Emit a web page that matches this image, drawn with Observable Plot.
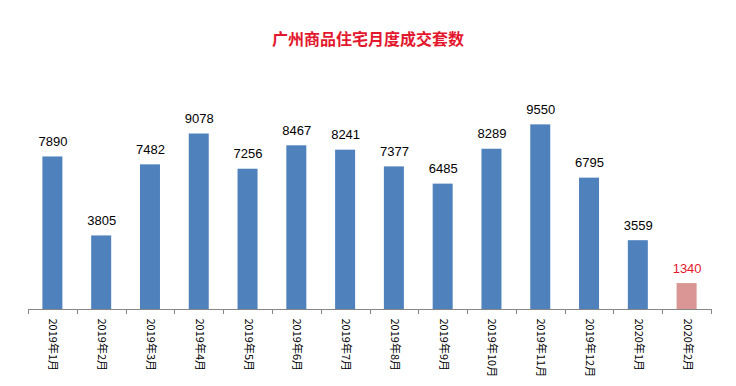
<!DOCTYPE html>
<html><head><meta charset="utf-8">
<script src="https://cdn.jsdelivr.net/npm/d3@7"></script>
<script src="https://cdn.jsdelivr.net/npm/@observablehq/plot@0.6"></script>
<style>
body{margin:0;background:#fff;}
#wrap{position:relative;width:736px;height:386px;font-family:"Liberation Sans","Noto Sans CJK SC",sans-serif;}
#title{position:absolute;left:0;top:27px;width:736px;text-align:center;font-size:16px;font-weight:bold;color:#e3172d;font-family:"Noto Sans CJK SC",sans-serif;line-height:22px;}
</style></head>
<body><div id="wrap"><div id="title">广州商品住宅月度成交套数</div></div>
<script>
const months = ["2019年1月","2019年2月","2019年3月","2019年4月","2019年5月","2019年6月","2019年7月","2019年8月","2019年9月","2019年10月","2019年11月","2019年12月","2020年1月","2020年2月"];
const values = [7890,3805,7482,9078,7256,8467,8241,7377,6485,8289,9550,6795,3559,1340];
const highlight = [false,false,false,false,false,false,false,false,false,false,false,false,false,true];
const data = months.map((m,i)=>({month:m,value:values[i],hl:highlight[i]}));

const boundaryTicks = (index, scales, values, dims) => {
  const x = scales.x;
  const bw = x.bandwidth();
  const step = x.step();
  const g = d3.create("svg:g");
  const base = Math.round(scales.y(0));
  const xs = months.map(m => x(m) + bw/2 - step/2);
  xs.push(x(months[months.length-1]) + bw/2 + step/2);
  g.append("line").attr("x1", xs[0]).attr("x2", xs[xs.length-1]).attr("y1", base+0.5).attr("y2", base+0.5).attr("stroke","#868686");
  for (const xv of xs) {
    g.append("line").attr("x1", Math.round(xv)+0.5).attr("x2", Math.round(xv)+0.5).attr("y1", base).attr("y2", base+5).attr("stroke","#868686");
  }
  return g.node();
};

const plot = Plot.plot({
  width: 736,
  height: 386,
  marginLeft: 28,
  marginRight: 25,
  marginTop: 77,
  marginBottom: 77,
  style: {fontFamily: '"Liberation Sans","Noto Sans CJK SC",sans-serif', background: "transparent"},
  x: {domain: months, paddingInner: 0.59, paddingOuter: 0.295, round: false, label: null},
  y: {domain: [0, 12000], axis: null},
  marks: [
    Plot.barY(data, {x: "month", y: "value", fill: d => d.hl ? "#da9694" : "#4f81bd"}),
    Plot.text(data, {x: "month", y: "value", text: d => String(d.value), dy: -15, fontSize: 13, fill: d => d.hl ? "#e3172d" : "#000"}),
    boundaryTicks,
    Plot.axisX({tickSize: 0, tickPadding: 9, tickRotate: 90, fontSize: 11, color: "#000", label: null, fontFamily: '"Noto Sans CJK SC",sans-serif'})
  ]
});
plot.style.position = "absolute";
plot.style.left = "0";
plot.style.top = "0";
document.getElementById("wrap").appendChild(plot);
</script>
</body></html>
